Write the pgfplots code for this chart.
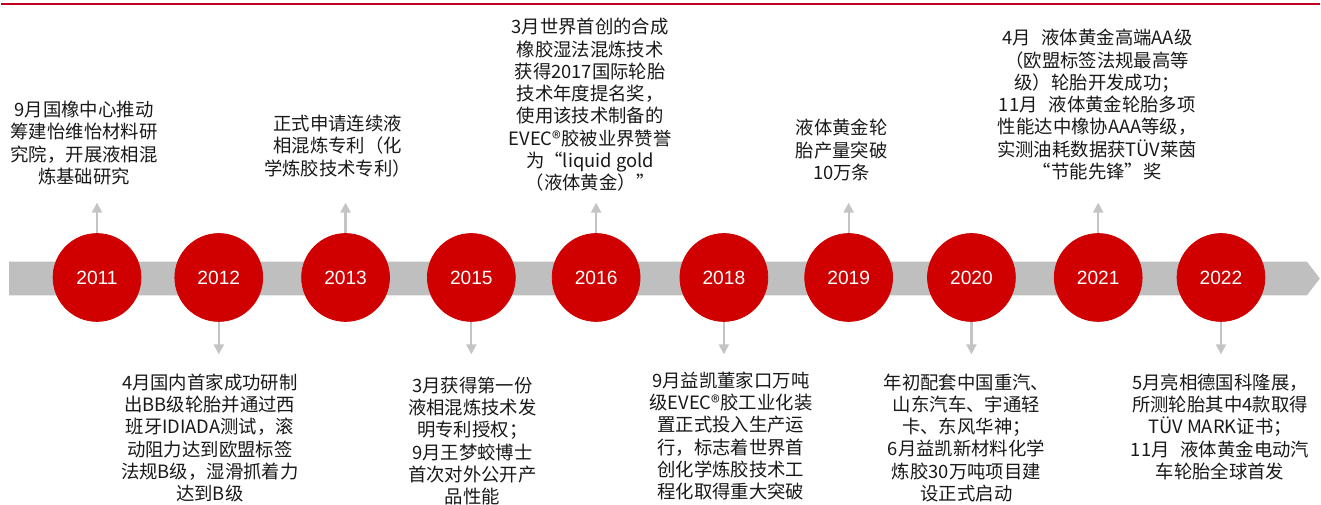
\documentclass[border=0pt]{standalone}
\usepackage{pgfplots}
\pgfplotsset{compat=1.18}
\usepackage{fontspec}
\setmainfont{Noto Sans CJK SC}
\newfontfamily\yearfont{Liberation Sans}
\usetikzlibrary{arrows.meta}

\definecolor{circred}{RGB}{208,0,0}
\definecolor{bargray}{RGB}{191,191,191}
\definecolor{arrowgray}{RGB}{196,196,196}
\definecolor{topred}{RGB}{192,0,32}
\definecolor{txt}{RGB}{25,25,25}

% 1 px of the reference = 0.5pt
\tikzset{evt/.style={align=center, inner sep=0pt, text=txt,
  font=\fontsize{9.2}{11.15}\selectfont}}

\begin{document}
\begin{tikzpicture}
\begin{axis}[
  scale only axis, width=660.5pt, height=252pt,
  xmin=0, xmax=1321, ymin=0, ymax=504, y dir=reverse,
  hide axis, clip=false,
]
% frame of the picture (invisible)
\addplot[draw=none] coordinates {(0,0) (1321,504)};
% red rule at the top
\addplot[topred, line width=1.2pt] coordinates {(0,4) (1321,4)};
% grey time bar with arrow tip
\addplot[fill=bargray, draw=none] coordinates
  {(8,262) (1308,262) (1321,279) (1308,296) (8,296)} -- cycle;
% connector arrows
\addplot[arrowgray, line width=1.1pt, -{Triangle[width=5pt,length=5pt]},
  quiver={u=0, v=\thisrow{v}}] table {
x    y    v
96   234  -31
218  321   34
345  234  -31
471  321   34
596  234  -31
724  321   34
849  234  -31
972  321   34
1099 234  -31
1222 321   34
};
% year circles
\addplot[only marks, mark=*, mark size=22pt, circred,
  mark options={draw=circred, fill=circred},
  nodes near coords, point meta=explicit symbolic,
  nodes near coords style={anchor=center, text=white,
    font=\yearfont\fontsize{9.6}{10}\selectfont}] table[meta=year] {
x    y    year
96   278  2011
218  278  2012
345  278  2013
471  278  2015
596  278  2016
724  278  2018
849  278  2019
972  278  2020
1099 278  2021
1222 278  2022
};
% events above the bar
\node[evt, anchor=north] at (axis cs:83,101) {9月国橡中心推动\\筹建怡维怡材料研\\究院，开展液相混\\炼基础研究};
\node[evt, anchor=north] at (axis cs:337,115) {正式申请连续液\\相混炼专利（化\\学炼胶技术专利）};
\node[evt, anchor=north] at (axis cs:590,18) {3月世界首创的合成\\橡胶湿法混炼技术\\获得2017国际轮胎\\技术年度提名奖，\\使用该技术制备的\\EVEC®胶被业界赞誉\\为“liquid gold\\（液体黄金）”};
\node[evt, anchor=north] at (axis cs:842,119) {液体黄金轮\\胎产量突破\\10万条};
\node[evt, anchor=north] at (axis cs:1098,29) {4月\hspace{0.6em}液体黄金高端AA级\\（欧盟标签法规最高等\\级）轮胎开发成功；\\11月\hspace{0.6em}液体黄金轮胎多项\\性能达中橡协AAA等级，\\实测油耗数据获TÜV莱茵\\“节能先锋”奖};
% events below the bar
\node[evt, anchor=north] at (axis cs:209,374) {4月国内首家成功研制\\出BB级轮胎并通过西\\班牙IDIADA测试，滚\\动阻力达到欧盟标签\\法规B级，湿滑抓着力\\达到B级};
\node[evt, anchor=north] at (axis cs:472,377) {3月获得第一份\\液相混炼技术发\\明专利授权；\\9月王梦蛟博士\\首次对外公开产\\品性能};
\node[evt, anchor=north] at (axis cs:731,372) {9月益凯董家口万吨\\级EVEC®胶工业化装\\置正式投入生产运\\行，标志着世界首\\创化学炼胶技术工\\程化取得重大突破};
\node[evt, anchor=north] at (axis cs:967,374) {年初配套中国重汽、\\山东汽车、宇通轻\\卡、东风华神；\\6月益凯新材料化学\\炼胶30万吨项目建\\设正式启动};
\node[evt, anchor=north] at (axis cs:1221,374) {5月亮相德国科隆展，\\所测轮胎其中4款取得\\TÜV MARK证书；\\11月\hspace{0.6em}液体黄金电动汽\\车轮胎全球首发};
\end{axis}
\end{tikzpicture}
\end{document}
